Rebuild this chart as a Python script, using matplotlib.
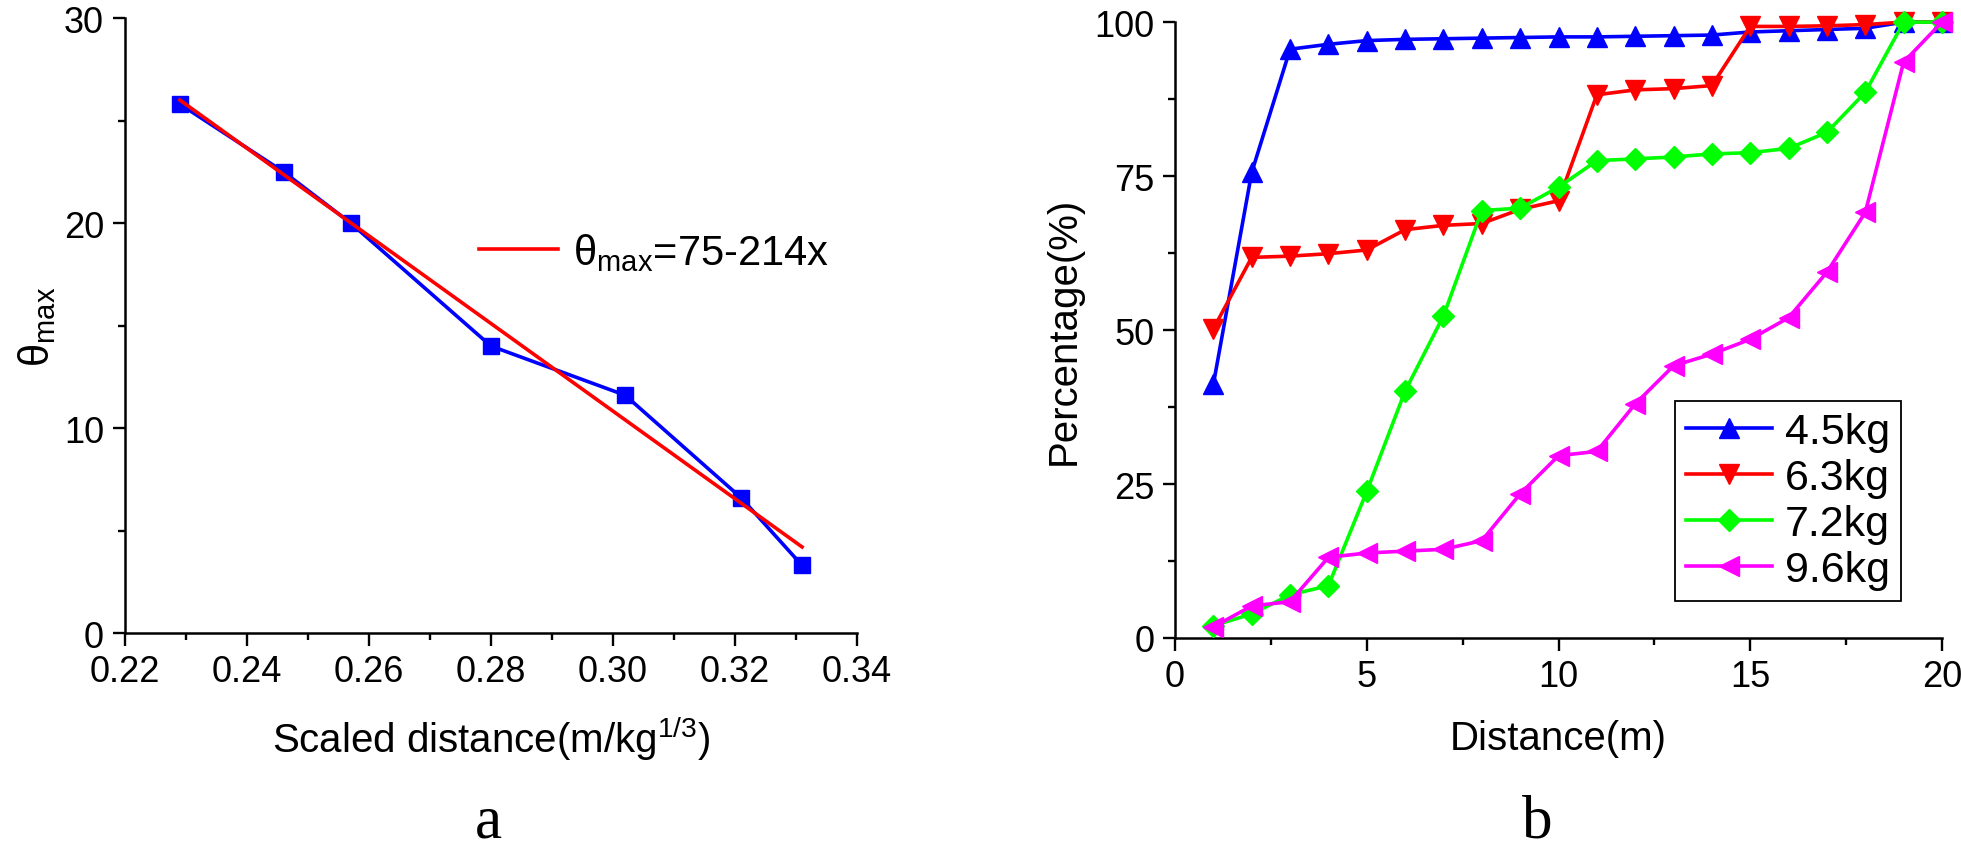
import matplotlib
matplotlib.use('Agg')
import matplotlib.pyplot as plt
from matplotlib.ticker import MultipleLocator, FormatStrFormatter

plt.rcParams['font.family'] = ['Liberation Sans', 'DejaVu Sans']
plt.rcParams['mathtext.fontset'] = 'custom'
plt.rcParams['mathtext.rm'] = 'Liberation Sans'
plt.rcParams['mathtext.it'] = 'Liberation Sans:italic'

# panel a: scaled distance vs theta_max
scaled_x = [0.229, 0.246, 0.257, 0.280, 0.302, 0.321, 0.331]
theta_max = [25.8, 22.5, 20.0, 14.0, 11.6, 6.6, 3.3]
fit_x = [0.229, 0.331]
fit_y = [26.0, 4.2]

# panel b: cumulative percentage vs distance
distance = list(range(1, 21))
pct_45 = [41.2, 75.6, 95.6, 96.4, 97.0, 97.2, 97.3, 97.4, 97.5, 97.6,
          97.6, 97.7, 97.8, 97.9, 98.4, 98.6, 98.8, 99.0, 100, 100]
pct_63 = [50.2, 61.8, 62.0, 62.4, 63.0, 66.3, 67.0, 67.3, 69.6, 71.0,
          88.2, 89.0, 89.2, 89.7, 99.3, 99.3, 99.4, 99.6, 100, 100]
pct_72 = [2.0, 3.9, 7.0, 8.5, 23.8, 40.1, 52.3, 69.4, 69.8, 73.2,
          77.5, 77.8, 78.1, 78.6, 78.8, 79.5, 82.1, 88.6, 100, 100]
pct_96 = [1.8, 5.2, 5.9, 13.1, 13.8, 14.1, 14.4, 15.8, 23.4, 29.6,
          30.3, 38.0, 44.2, 46.1, 48.5, 52.0, 59.4, 69.1, 93.5, 100]
labels = ['4.5kg', '6.3kg', '7.2kg', '9.6kg']

fig = plt.figure(figsize=(19.61, 8.53), dpi=100)
ax1 = fig.add_axes([0.0637, 0.2567, 0.3733, 0.721])
ax2 = fig.add_axes([0.5992, 0.2509, 0.3911, 0.722])

def style_axis(ax):
    for s in ['top', 'right']:
        ax.spines[s].set_visible(False)
    for s in ['left', 'bottom']:
        ax.spines[s].set_linewidth(1.8)
    ax.tick_params(which='major', direction='out', length=9, width=1.7,
                   labelsize=26, pad=6)
    ax.tick_params(which='minor', direction='out', length=5, width=1.7)

# a
ax1.plot(scaled_x, theta_max, color='#0000FF', lw=2.6, marker='s', ms=11,
         clip_on=False, zorder=3)
ax1.plot(fit_x, fit_y, color='#FF0000', lw=2.6, zorder=4,
         label=r'θ$_{\mathrm{max}}$=75-214x')
ax1.set_xlim(0.22, 0.34)
ax1.set_ylim(0, 30)
ax1.xaxis.set_major_locator(MultipleLocator(0.02))
ax1.xaxis.set_minor_locator(MultipleLocator(0.01))
ax1.xaxis.set_major_formatter(FormatStrFormatter('%.2f'))
ax1.yaxis.set_major_locator(MultipleLocator(10))
ax1.yaxis.set_minor_locator(MultipleLocator(5))
style_axis(ax1)
ax1.set_xlabel(r'Scaled distance(m/kg$^{1/3}$)', fontsize=29, labelpad=18)
ax1.set_ylabel(r'θ$_{\mathrm{max}}$', fontsize=30, labelpad=4)
ax1.legend(loc='center left', bbox_to_anchor=(0.484, 0.62), frameon=False,
           fontsize=30, handlelength=1.9, handletextpad=0.35,
           borderpad=0, borderaxespad=0)

# b
series = [pct_45, pct_63, pct_72, pct_96]
colors = ['#0000FF', '#FF0000', '#00FF00', '#FF00FF']
markers = ['^', 'v', 'D', '<']
sizes = [14, 14, 11, 14]
for vals, c, m, ms, lab in zip(series, colors, markers, sizes, labels):
    ax2.plot(distance, vals, color=c, lw=2.6, marker=m, ms=ms, label=lab,
             clip_on=False, zorder=3)
ax2.set_xlim(0, 20)
ax2.set_ylim(0, 100)
ax2.xaxis.set_major_locator(MultipleLocator(5))
ax2.xaxis.set_minor_locator(MultipleLocator(2.5))
ax2.yaxis.set_major_locator(MultipleLocator(25))
ax2.yaxis.set_minor_locator(MultipleLocator(12.5))
style_axis(ax2)
ax2.set_xlabel('Distance(m)', fontsize=29, labelpad=18)
ax2.set_ylabel('Percentage(%)', fontsize=29, labelpad=8)
leg = ax2.legend(loc='lower right', bbox_to_anchor=(0.9466, 0.06), fontsize=31,
                 fancybox=False, edgecolor='black', framealpha=1,
                 handlelength=2.0, handletextpad=0.3, borderpad=0.25,
                 labelspacing=0.14, borderaxespad=0)
leg.get_frame().set_linewidth(1.3)

fig.text(0.249, 0.035, 'a', fontsize=44, family='Liberation Serif',
         ha='center', va='center')
fig.text(0.784, 0.035, 'b', fontsize=44, family='Liberation Serif',
         ha='center', va='center')

fig.savefig('out.png', dpi=100)
